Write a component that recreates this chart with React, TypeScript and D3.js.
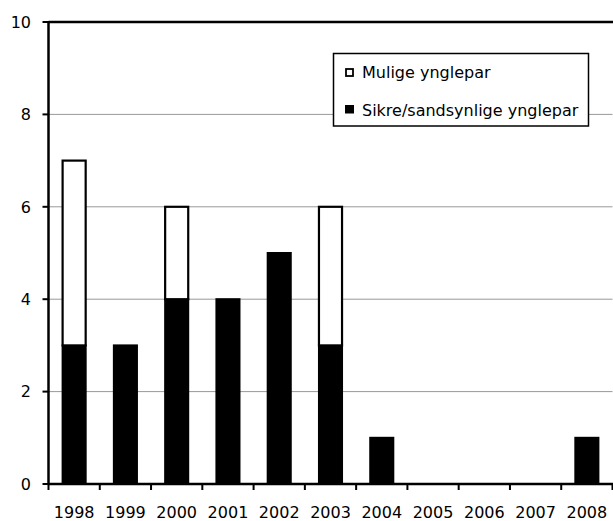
import React from "react";
import * as d3 from "d3";

const years = ["1998","1999","2000","2001","2002","2003","2004","2005","2006","2007","2008"];
const sikre = [3, 3, 4, 4, 5, 3, 1, 0, 0, 0, 1];
const mulige = [4, 0, 2, 0, 0, 3, 0, 0, 0, 0, 0];
const yTicks = [0, 2, 4, 6, 8, 10];
const legendLabels = ["Mulige ynglepar", "Sikre/sandsynlige ynglepar"];

export default function App() {
  const W = 613, H = 521;
  const left = 48.5, right = 612.5, top = 22, bottom = 484;
  const x = d3.scaleBand<string>().domain(years).range([left, right]).paddingInner(0.55).paddingOuter(0.275);
  const xb = d3.scaleBand<string>().domain(years).range([left, right]);
  const y = d3.scaleLinear().domain([0, 10]).range([bottom, top]);
  const font = "DejaVu Sans, Verdana, sans-serif";
  return (
    <svg width={W} height={H} style={{ position: "absolute", left: 0, top: 0, background: "#fff" }}>
      {yTicks.filter(t => t > 0 && t < 10).map(t => (
        <line key={t} x1={left} x2={right} y1={y(t)} y2={y(t)} stroke="#999" strokeWidth={1} />
      ))}
      <line x1={left} x2={W} y1={y(10)} y2={y(10)} stroke="#000" strokeWidth={2.5} />
      {years.map((yr, i) => {
        const bx = x(yr)!;
        const bw = x.bandwidth();
        const s = sikre[i], m = mulige[i];
        return (
          <g key={yr}>
            {s > 0 && (
              <rect x={bx} y={y(s)} width={bw} height={y(0) - y(s)} fill="#000" stroke="#000" strokeWidth={2} />
            )}
            {m > 0 && (
              <rect x={bx} y={y(s + m)} width={bw} height={y(s) - y(s + m)} fill="#fff" stroke="#000" strokeWidth={2.2} />
            )}
          </g>
        );
      })}
      <line x1={left} x2={left} y1={top - 1} y2={bottom} stroke="#000" strokeWidth={2.5} />
      <line x1={left} x2={W} y1={bottom} y2={bottom} stroke="#000" strokeWidth={2.5} />
      {yTicks.map(t => (
        <g key={t}>
          <line x1={left - 6} x2={left} y1={y(t)} y2={y(t)} stroke="#000" strokeWidth={2} />
          <text x={31} y={y(t)} dy="0.36em" textAnchor="end" fontFamily={font} fontSize={16} fill="#000">{t}</text>
        </g>
      ))}
      {years.map((yr, i) => (
        <line key={"t" + yr} x1={xb(yr)!} x2={xb(yr)!} y1={bottom} y2={bottom + 6} stroke="#000" strokeWidth={2} />
      ))}
      <line x1={right} x2={right} y1={bottom} y2={bottom + 6} stroke="#000" strokeWidth={2} />
      {years.map(yr => (
        <text key={"l" + yr} x={xb(yr)! + xb.bandwidth() / 2} y={518} textAnchor="middle" fontFamily={font} fontSize={16} fill="#000">{yr}</text>
      ))}
      <rect x={333.5} y={53.5} width={255} height={72.5} fill="#fff" stroke="#000" strokeWidth={1.5} />
      <rect x={346} y={69} width={7} height={7} fill="#fff" stroke="#000" strokeWidth={1.8} />
      <text x={362} y={78} fontFamily={font} fontSize={16} fill="#000">{legendLabels[0]}</text>
      <rect x={345} y={105} width={9} height={8.5} fill="#000" />
      <text x={362} y={116} fontFamily={font} fontSize={16} fill="#000">{legendLabels[1]}</text>
    </svg>
  );
}
